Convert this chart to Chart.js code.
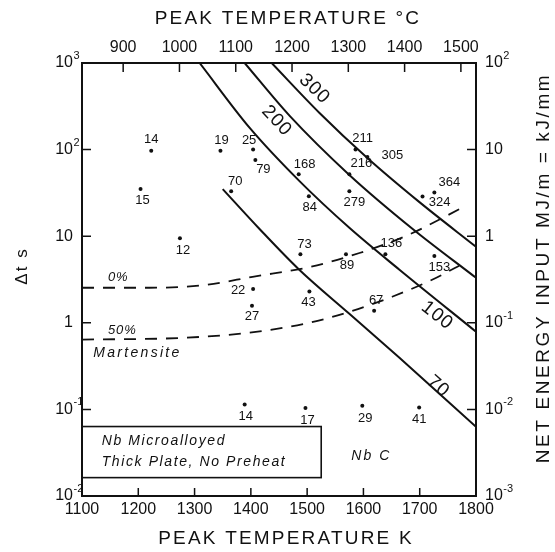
<!DOCTYPE html>
<html>
<head>
<meta charset="utf-8">
<title>Peak temperature vs time</title>
<script src="https://cdn.jsdelivr.net/npm/chart.js@4.4.1/dist/chart.umd.min.js"></script>
<style>
  html, body { margin: 0; padding: 0; background: #fff; }
  #box { width: 555px; height: 552px; }
</style>
</head>
<body>
<div id="box"><canvas id="peakChart"></canvas></div>
<script>
// weld runs: label, peak temperature (K), time dt (s)
const runLabels = ['14', '15', '19', '25', '79', '70', '168', '84', '12', '73', '22', '27', '43', '14', '17', '29', '41', '67', '89', '136', '153', '211', '305', '216', '279', '364', '324'];
const peakTempK = [1223, 1204, 1346, 1404, 1408, 1365, 1485, 1503, 1274, 1488, 1404, 1402, 1504, 1389, 1497, 1598, 1699, 1619, 1569, 1639, 1726, 1586, 1607, 1575, 1575, 1726, 1705];
const deltaT = [97, 35, 97, 100, 76, 33, 52, 29, 9.5, 6.2, 2.45, 1.57, 2.3, 0.114, 0.104, 0.11, 0.105, 1.38, 6.2, 6.2, 5.9, 100, 82, 52, 33, 32, 28.7];

// constant net energy input curves
const energy300K = [1437, 1522, 1607, 1699, 1800];
const energy300T = [1000, 265, 80, 24.9, 7.55];
const energy200K = [1389, 1469, 1575, 1687, 1800];
const energy200T = [1000, 245, 51, 12.2, 3.31];
const energy100K = [1309, 1398, 1486, 1575, 1664, 1800];
const energy100T = [1000, 178, 43.5, 12.5, 4.1, 0.79];
const energy70K = [1350, 1415, 1486, 1575, 1664, 1800];
const energy70T = [35, 12.2, 4.1, 1.27, 0.395, 0.063];

// martensite boundaries (dashed)
const mart0K = [1100, 1220, 1322, 1403, 1504, 1593, 1676, 1782];
const mart0T = [2.54, 2.54, 2.75, 3.4, 4.4, 6.4, 10.1, 22.4];
const mart50K = [1100, 1279, 1398, 1504, 1575, 1651, 1722, 1770];
const mart50T = [0.64, 0.67, 0.77, 1.0, 1.34, 2.0, 3.14, 4.56];

// axes
const kelvinTicks = [1100, 1200, 1300, 1400, 1500, 1600, 1700, 1800];
const celsiusTicks = [900, 1000, 1100, 1200, 1300, 1400, 1500];
const timeExponents = [-2, -1, 0, 1, 2, 3];
const energyExponents = [-3, -2, -1, 0, 1, 2];

// label placement (px offsets from each dot)
const labelShift = [[0,-11],[2,11],[1,-10],[-4,-9],[8,10],[4,-10],[6,-10],[1,11],[3,12],[4,-10],[-15,1],[0,11],[-1,11],[1,12],[2,12],[3,13],[0,12],[2,-10],[1,11],[6,-11],[5,11],[7,-11],[25,-2],[12,-11],[5,11],[15,-10],[17,6]];

const ink = '#111';
const FONT = '"Liberation Sans", Arial, sans-serif';

function toPoints(xs, ys) {
    return xs.map((v, i) => ({ x: v, y: ys[i] }));
}

function curve(xs, ys, dashed) {
    return {
        data: toPoints(xs, ys),
        showLine: true,
        borderColor: ink,
        borderWidth: dashed ? 1.8 : 2,
        borderDash: dashed ? [12, 9] : [],
        pointRadius: 0,
        cubicInterpolationMode: 'monotone',
        fill: false
    };
}

function drawSpaced(ctx, text, x, y, font, spacing, align) {
    ctx.font = font;
    ctx.letterSpacing = spacing + 'px';
    ctx.textAlign = align || 'center';
    ctx.textBaseline = 'middle';
    ctx.fillText(text, x, y);
    ctx.letterSpacing = '0px';
}

function drawPow(ctx, exp, x, y, align) {
    const base = exp === 0 ? '1' : '10';
    const sup = (exp === 0 || exp === 1) ? '' : String(exp);
    ctx.textBaseline = 'middle';
    ctx.textAlign = 'left';
    ctx.font = '16px ' + FONT;
    const bw = ctx.measureText(base).width;
    const bx = align === 'right' ? x - bw : x;
    ctx.fillText(base, bx, y);
    if (sup) {
        ctx.font = '11px ' + FONT;
        ctx.fillText(sup, bx + bw + 0.5, y - 7);
    }
}

const paperText = {
    id: 'paperText',
    afterDraw(chart) {
        const { ctx, chartArea: a, scales } = chart;
        const sx = scales.x, sy = scales.y, sy2 = scales.y2, sxt = scales.xTop;
        ctx.save();
        ctx.fillStyle = ink;
        ctx.strokeStyle = ink;

        // inward ticks
        ctx.lineWidth = 1.5;
        ctx.beginPath();
        kelvinTicks.forEach(v => { const px = sx.getPixelForValue(v); ctx.moveTo(px, a.bottom); ctx.lineTo(px, a.bottom - 8); });
        celsiusTicks.forEach(v => { const px = sxt.getPixelForValue(v); ctx.moveTo(px, a.top); ctx.lineTo(px, a.top + 9); });
        timeExponents.forEach(e => { const py = sy.getPixelForValue(Math.pow(10, e)); ctx.moveTo(a.left, py); ctx.lineTo(a.left + 9, py); });
        energyExponents.forEach(e => { const py = sy2.getPixelForValue(Math.pow(10, e)); ctx.moveTo(a.right, py); ctx.lineTo(a.right - 9, py); });
        ctx.stroke();

        // log tick labels
        timeExponents.forEach(e => drawPow(ctx, e, a.left - 9, sy.getPixelForValue(Math.pow(10, e)), 'right'));
        energyExponents.forEach(e => drawPow(ctx, e, a.right + 9, sy2.getPixelForValue(Math.pow(10, e)), 'left'));

        // axis titles
        drawSpaced(ctx, 'PEAK TEMPERATURE °C', 288, 19, '19px ' + FONT, 2.2);
        drawSpaced(ctx, 'PEAK TEMPERATURE K', 286, 539, '19px ' + FONT, 2.2);
        ctx.save();
        ctx.translate(22, 266);
        ctx.rotate(-Math.PI / 2);
        drawSpaced(ctx, 'Δt s', 0, 0, '17px ' + FONT, 2);
        ctx.restore();
        ctx.save();
        ctx.translate(544, 268);
        ctx.rotate(-Math.PI / 2);
        drawSpaced(ctx, 'NET ENERGY INPUT MJ/m = kJ/mm', 0, 0, '19px ' + FONT, 2.6);
        ctx.restore();

        // run numbers beside the dots
        const meta = chart.getDatasetMeta(0);
        ctx.font = '13px ' + FONT;
        ctx.textAlign = 'center';
        ctx.textBaseline = 'middle';
        meta.data.forEach((pt, i) => {
            ctx.fillText(runLabels[i], pt.x + labelShift[i][0], pt.y + labelShift[i][1]);
        });

        // energy curve labels
        const curveLabels = [['300', 1513, 500, 44], ['200', 1446, 214, 47], ['100', 1731, 1.21, 38], ['70', 1733, 0.183, 41]];
        curveLabels.forEach(([t, k, s, ang]) => {
            ctx.save();
            ctx.translate(sx.getPixelForValue(k), sy.getPixelForValue(s));
            ctx.rotate(ang * Math.PI / 180);
            drawSpaced(ctx, t, 0, 0, '19px ' + FONT, 1);
            ctx.restore();
        });

        // martensite labels
        drawSpaced(ctx, '0%', sx.getPixelForValue(1146), sy.getPixelForValue(3.31), 'italic 13px ' + FONT, 1, 'left');
        drawSpaced(ctx, '50%', sx.getPixelForValue(1146), sy.getPixelForValue(0.81), 'italic 13px ' + FONT, 1, 'left');
        drawSpaced(ctx, 'Martensite', sx.getPixelForValue(1120), sy.getPixelForValue(0.452), 'italic 14px ' + FONT, 2.3, 'left');
        drawSpaced(ctx, 'Nb C', sx.getPixelForValue(1614), sy.getPixelForValue(0.0286), 'italic 14px ' + FONT, 2, 'center');

        // material note box
        const bx0 = a.left, bx1 = sx.getPixelForValue(1525);
        const by0 = sy.getPixelForValue(0.0634), by1 = sy.getPixelForValue(0.0163);
        ctx.lineWidth = 1.6;
        ctx.strokeRect(bx0, by0, bx1 - bx0, by1 - by0);
        drawSpaced(ctx, 'Nb Microalloyed', sx.getPixelForValue(1135), sy.getPixelForValue(0.0436), 'italic 14px ' + FONT, 1.6, 'left');
        drawSpaced(ctx, 'Thick Plate, No Preheat', sx.getPixelForValue(1135), sy.getPixelForValue(0.0243), 'italic 14px ' + FONT, 1.6, 'left');

        ctx.restore();
    }
};

function fixSize(prop, size) {
    return function (scale) { scale[prop] = size; };
}

const ctx = document.getElementById('peakChart').getContext('2d');
new Chart(ctx, {
    type: 'scatter',
    data: {
        datasets: [
            {
                data: toPoints(peakTempK, deltaT),
                pointRadius: 2,
                pointBackgroundColor: ink,
                pointBorderWidth: 0,
                showLine: false
            },
            curve(energy300K, energy300T, false),
            curve(energy200K, energy200T, false),
            curve(energy100K, energy100T, false),
            curve(energy70K, energy70T, false),
            curve(mart0K, mart0T, true),
            curve(mart50K, mart50T, true)
        ]
    },
    options: {
        responsive: true,
        maintainAspectRatio: false,
        animation: false,
        layout: { padding: 0 },
        plugins: {
            legend: { display: false },
            tooltip: { enabled: false }
        },
        scales: {
            x: {
                type: 'linear',
                position: 'bottom',
                min: 1100,
                max: 1800,
                afterBuildTicks: s => { s.ticks = kelvinTicks.map(v => ({ value: v })); },
                afterFit: fixSize('height', 56),
                ticks: { color: ink, font: { size: 16, family: FONT }, padding: 4, maxRotation: 0, callback: v => String(v) },
                grid: { drawOnChartArea: false, drawTicks: false },
                border: { color: ink, width: 2 }
            },
            xTop: {
                type: 'linear',
                position: 'top',
                min: 1100 - 273.15,
                max: 1800 - 273.15,
                afterBuildTicks: s => { s.ticks = celsiusTicks.map(v => ({ value: v })); },
                afterFit: fixSize('height', 63),
                ticks: { color: ink, font: { size: 16, family: FONT }, padding: 6, maxRotation: 0, callback: v => String(v) },
                grid: { drawOnChartArea: false, drawTicks: false },
                border: { color: ink, width: 2 }
            },
            y: {
                type: 'logarithmic',
                position: 'left',
                min: 0.01,
                max: 1000,
                afterFit: fixSize('width', 82),
                ticks: { display: false },
                grid: { drawOnChartArea: false, drawTicks: false },
                border: { color: ink, width: 2 }
            },
            y2: {
                type: 'logarithmic',
                position: 'right',
                min: 0.001,
                max: 100,
                afterFit: fixSize('width', 79),
                ticks: { display: false },
                grid: { drawOnChartArea: false, drawTicks: false },
                border: { color: ink, width: 2 }
            }
        }
    },
    plugins: [paperText]
});
</script>
</body>
</html>
